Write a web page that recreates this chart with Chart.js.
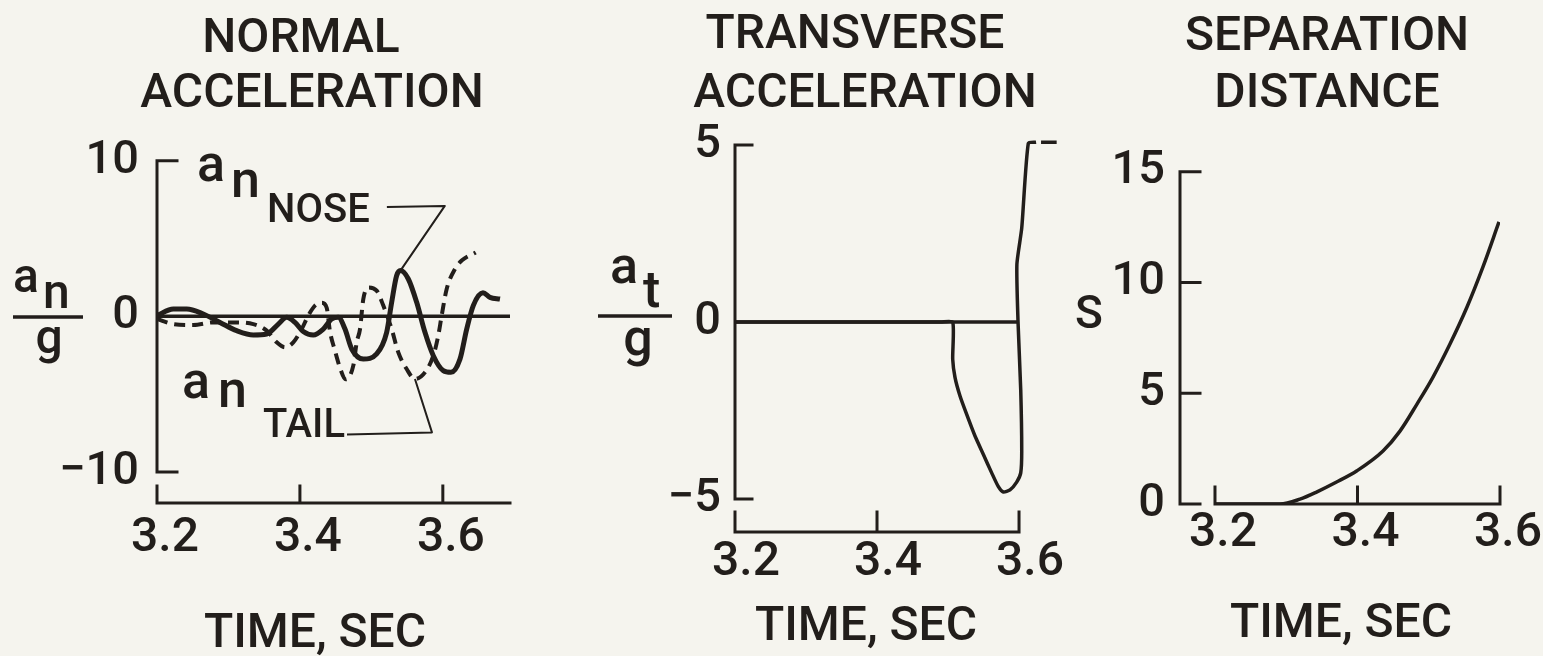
<!DOCTYPE html>
<html><head><meta charset="utf-8">
<script src="https://cdn.jsdelivr.net/npm/chart.js"></script>
<style>
html,body{margin:0;padding:0;background:#f5f4ee;}
body{width:1543px;height:656px;position:relative;overflow:hidden;}
canvas{position:absolute;top:0;}
</style></head>
<body>
<canvas id="c1" width="612" height="656" style="left:0px"></canvas>
<canvas id="c2" width="560" height="656" style="left:580px"></canvas>
<canvas id="c3" width="504" height="656" style="left:1066px"></canvas>
<script>
// ---------- data ----------
const timeTicks = [3.2, 3.4, 3.6];
const timeTickLabels = ['3.2', '3.4', '3.6'];

// Panel 1: normal acceleration a_n/g
const normalTicks = [10, 0, -10];
const normalTickLabels = ['10', '0', '\u221210'];
const noseTime = [3.2000,3.2228,3.2416,3.2648,3.2882,3.3115,3.3348,3.3535,3.3698,3.3815,3.3931,3.4047,3.4187,3.4327,3.4445,3.4537,3.4631,3.4725,3.4887,3.5074,3.5214,3.5284,3.5354,3.5407,3.5517,3.5634,3.5750,3.5867,3.6006,3.6114,3.6240,3.6334,3.6426,3.6562,3.6660,3.6800];
const noseAccel = [0.05,0.47,0.47,0.15,-0.39,-0.92,-1.20,-1.14,-0.50,-0.06,-0.39,-0.98,-1.20,-0.82,-0.17,-0.06,-0.82,-2.10,-2.75,-2.42,-1.03,0.90,2.62,2.94,2.40,0.90,-1.03,-2.53,-3.49,-3.60,-2.75,-0.82,0.69,1.51,1.22,1.11];
const tailTime = [3.2000,3.2228,3.2508,3.2788,3.3068,3.3348,3.3535,3.3675,3.3791,3.3907,3.4025,3.4117,3.4211,3.4305,3.4375,3.4420,3.4490,3.4560,3.4640,3.4747,3.4795,3.4841,3.4887,3.4957,3.5074,3.5167,3.5284,3.5377,3.5494,3.5610,3.5750,3.5867,3.5936,3.5984,3.6054,3.6170,3.6268,3.6460];
const tailAccel = [-0.17,-0.50,-0.56,-0.39,-0.39,-0.50,-0.92,-1.67,-1.99,-1.67,-0.82,0.05,0.69,0.87,0.55,-0.95,-2.20,-3.30,-4.05,-3.17,-1.67,-0.82,1.11,1.86,1.65,0.69,-0.82,-2.32,-3.39,-4.03,-3.60,-2.53,-1.24,0.05,1.76,3.04,3.60,4.10];
const noseLeaderTime = [3.5217, 3.6028, 3.5407];
const noseLeaderAccel = [7.03, 7.10, 2.94];
const tailLeaderTime = [3.4659, 3.5848, 3.5610];
const tailLeaderAccel = [-7.59, -7.46, -4.03];
const normalZeroTime = [3.2, 3.694];
const normalZeroAccel = [0, 0];

// Panel 2: transverse acceleration a_t/g
const transTicks = [5, 0, -5];
const transTickLabels = ['5', '0', '\u22125'];
const transTime = [3.2000,3.4900,3.5066,3.5066,3.5099,3.5169,3.5263,3.5380,3.5498,3.5615,3.5709,3.5779,3.5873,3.5967,3.6024,3.6038,3.6024,3.5986,3.5970,3.6038,3.6131,3.6240,3.6275,3.6310,3.6530];
const transAccel = [0,0,0,-1.05,-1.57,-2.09,-2.61,-3.22,-3.74,-4.26,-4.65,-4.80,-4.74,-4.52,-4.26,-3.65,-1.92,0,1.63,2.65,5.05,5.08,null,5.08,5.08];
const transZeroTime = [3.2, 3.6];
const transZeroAccel = [0, 0];

// Panel 3: separation distance S
const sepTicks = [15, 10, 5, 0];
const sepTickLabels = ['15', '10', '5', '0'];
const sepTime = [3.2000,3.2500,3.2912,3.3193,3.3432,3.3700,3.3993,3.4358,3.4596,3.4835,3.5060,3.5298,3.5537,3.5761,3.5986];
const sepDist = [0,0,0,0.22,0.55,0.98,1.50,2.39,3.29,4.51,5.73,7.22,8.89,10.70,12.73];

// ---------- styling / drawing ----------
const INK = '#221e1b';
const FONT = 'Roboto';
const WEIGHT = '500';

function pts(xs, ys) { return xs.map((x, i) => ({ x: x, y: ys[i] })); }

function framePlugin(f) {
  return {
    id: 'frame',
    beforeDatasetsDraw(chart) {
      const ctx = chart.ctx, xs = chart.scales.x, ys = chart.scales.y;
      ctx.save();
      ctx.strokeStyle = INK; ctx.lineWidth = 3; ctx.lineCap = 'square';
      const yx = xs.getPixelForValue(f.yAxisAt);
      ctx.beginPath();
      ctx.moveTo(yx, ys.getPixelForValue(f.yFrom));
      ctx.lineTo(yx, ys.getPixelForValue(f.yTo));
      f.yMarks.forEach(v => { const p = ys.getPixelForValue(v); ctx.moveTo(yx, p); ctx.lineTo(yx + f.yTickLen, p); });
      const xy = ys.getPixelForValue(f.xAxisAt);
      ctx.moveTo(xs.getPixelForValue(f.xFrom), xy);
      ctx.lineTo(xs.getPixelForValue(f.xTo), xy);
      timeTicks.forEach(v => { const p = xs.getPixelForValue(v); ctx.moveTo(p, xy); ctx.lineTo(p, xy - f.xTickLen); });
      ctx.stroke();
      ctx.restore();
    },
    afterDraw(chart) {
      const ctx = chart.ctx;
      ctx.save();
      ctx.fillStyle = INK; ctx.strokeStyle = INK; ctx.textBaseline = 'alphabetic';
      (f.texts || []).forEach(t => {
        ctx.font = WEIGHT + ' ' + t.s + 'px ' + FONT;
        ctx.textAlign = t.a || 'left';
        ctx.fillText(t.t, t.x - f.off, t.y);
      });
      (f.bars || []).forEach(b => {
        ctx.lineWidth = 3.5; ctx.beginPath();
        ctx.moveTo(b[0] - f.off, b[2]); ctx.lineTo(b[1] - f.off, b[2]); ctx.stroke();
      });
      ctx.restore();
    }
  };
}

function lineDs(data, width, extra) {
  return Object.assign({ data: data, borderColor: INK, borderWidth: width, pointRadius: 0,
    fill: false, tension: 0, spanGaps: false, borderJoinStyle: 'round' }, extra || {});
}

function makeChart(id, c) {
  return new Chart(document.getElementById(id), {
    type: 'line',
    data: { datasets: c.datasets },
    options: {
      responsive: false, animation: false, devicePixelRatio: 1,
      layout: { padding: { left: 0, right: c.padRight, top: c.padTop, bottom: 0 } },
      plugins: { legend: { display: false }, tooltip: { enabled: false }, title: { display: false } },
      scales: {
        x: { type: 'linear', min: c.xMin, max: c.xMax,
          grid: { display: false, drawTicks: false }, border: { display: false },
          afterBuildTicks: s => { s.ticks = timeTicks.map(v => ({ value: v })); },
          afterFit: s => { s.height = c.xHeight; },
          ticks: { autoSkip: false, maxRotation: 0, minRotation: 0, padding: c.xPad, labelOffset: c.xLabelOffset,
            color: INK, font: { family: FONT, size: 48, weight: WEIGHT }, callback: (v, i) => timeTickLabels[i] } },
        y: { type: 'linear', min: c.yMin, max: c.yMax,
          grid: { display: false, drawTicks: false }, border: { display: false },
          afterBuildTicks: s => { s.ticks = c.yTicks.map(v => ({ value: v })); },
          afterFit: s => { s.width = c.yWidth; },
          ticks: { autoSkip: false, padding: c.yPad, color: INK, font: { family: FONT, size: 47, weight: WEIGHT },
            callback: (v, i) => c.yTickLabels[i] } }
      }
    },
    plugins: [framePlugin(c.frame)]
  });
}

// Panel 1
makeChart('c1', {
  padTop: 153, padRight: 102,
  xMin: 3.2, xMax: 3.694, xHeight: 153, xPad: 7, xLabelOffset: 8,
  yMin: -12.0, yMax: 10.5, yWidth: 157, yPad: 18, yTicks: normalTicks, yTickLabels: normalTickLabels,
  datasets: [
    lineDs(pts(noseTime, noseAccel), 5, { cubicInterpolationMode: 'monotone' }),
    lineDs(pts(tailTime, tailAccel), 4, { cubicInterpolationMode: 'monotone', borderDash: [11, 7] }),
    lineDs(pts(noseLeaderTime, noseLeaderAccel), 2),
    lineDs(pts(tailLeaderTime, tailLeaderAccel), 2),
    lineDs(pts(normalZeroTime, normalZeroAccel), 3.5)
  ],
  frame: { off: 0, yAxisAt: 3.2, yFrom: 10, yTo: -10, yMarks: [10, -10], yTickLen: 20,
    xAxisAt: -12.0, xFrom: 3.2, xTo: 3.694, xTickLen: 17,
    texts: [
      { t: 'NORMAL', x: 301, y: 52, s: 48, a: 'center' },
      { t: 'ACCELERATION', x: 312, y: 107, s: 48, a: 'center' },
      { t: 'a', x: 13, y: 292, s: 48 }, { t: 'n', x: 43, y: 308, s: 48 },
      { t: 'g', x: 49, y: 353, s: 48, a: 'center' },
      { t: 'a', x: 197, y: 181, s: 52 }, { t: 'n', x: 231, y: 197, s: 52 },
      { t: 'NOSE', x: 267, y: 222, s: 40 },
      { t: 'a', x: 182, y: 398, s: 52 }, { t: 'n', x: 218, y: 407, s: 52 },
      { t: 'TAIL', x: 263, y: 437, s: 40 },
      { t: 'TIME, SEC', x: 315, y: 647, s: 48, a: 'center' }
    ],
    bars: [[13, 83, 317]] }
});

// Panel 2
makeChart('c2', {
  padTop: 134, padRight: 80,
  xMin: 3.2, xMax: 3.6577, xHeight: 124, xPad: 2, xLabelOffset: 11,
  yMin: -5.93, yMax: 5.31, yWidth: 155, yPad: 14, yTicks: transTicks, yTickLabels: transTickLabels,
  datasets: [
    lineDs(pts(transTime, transAccel), 3.5, { tension: 0.2 }),
    lineDs(pts(transZeroTime, transZeroAccel), 3.5)
  ],
  frame: { off: 580, yAxisAt: 3.2, yFrom: 5, yTo: -5, yMarks: [5, -5], yTickLen: 17,
    xAxisAt: -5.93, xFrom: 3.2, xTo: 3.6, xTickLen: 20,
    texts: [
      { t: 'TRANSVERSE', x: 855, y: 48, s: 48, a: 'center' },
      { t: 'ACCELERATION', x: 865, y: 107, s: 48, a: 'center' },
      { t: 'a', x: 610, y: 283, s: 52 }, { t: 't', x: 643, y: 307, s: 52 },
      { t: 'g', x: 638, y: 355, s: 52, a: 'center' },
      { t: 'TIME, SEC', x: 866, y: 640, s: 48, a: 'center' }
    ],
    bars: [[598, 672, 316]] }
});

// Panel 3
makeChart('c3', {
  padTop: 165, padRight: 70,
  xMin: 3.1509, xMax: 3.6, xHeight: 152, xPad: 1, xLabelOffset: 8,
  yMin: 0, yMax: 15.3, yWidth: 114, yPad: 15, yTicks: sepTicks, yTickLabels: sepTickLabels,
  datasets: [
    lineDs(pts(sepTime, sepDist), 3.5, { cubicInterpolationMode: 'monotone' })
  ],
  frame: { off: 1066, yAxisAt: 3.1509, yFrom: 15, yTo: 0, yMarks: [15, 10, 5, 0], yTickLen: 20,
    xAxisAt: 0, xFrom: 3.2, xTo: 3.6, xTickLen: 17,
    texts: [
      { t: 'SEPARATION', x: 1327, y: 50, s: 48, a: 'center' },
      { t: 'DISTANCE', x: 1327, y: 107, s: 48, a: 'center' },
      { t: 'S', x: 1075, y: 328, s: 46 },
      { t: 'TIME, SEC', x: 1341, y: 637, s: 48, a: 'center' }
    ] }
});
</script>
</body></html>
